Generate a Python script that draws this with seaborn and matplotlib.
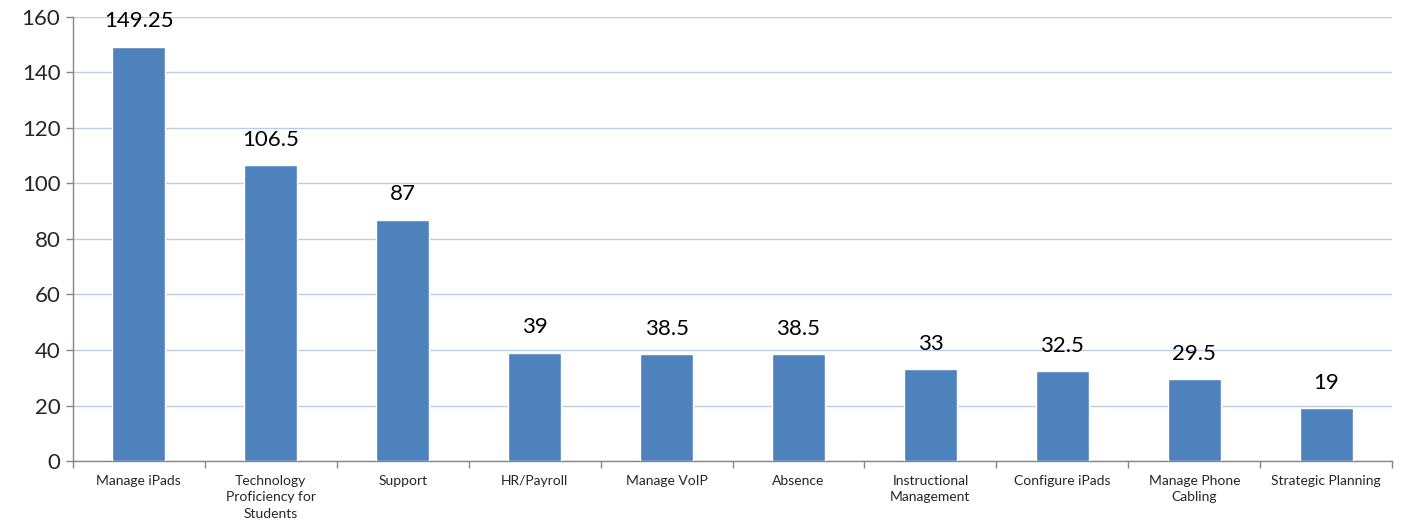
import matplotlib
matplotlib.use("Agg")
import matplotlib.pyplot as plt
import seaborn as sns
import numpy as np
import pandas as pd

# --- Data ---
categories = ["Manage iPads", "Technology\nProficiency for\nStudents", "Support",
              "HR/Payroll", "Manage VoIP", "Absence", "Instructional\nManagement",
              "Configure iPads", "Manage Phone\nCabling", "Strategic Planning"]
values = [149.25, 106.5, 87, 39, 38.5, 38.5, 33, 32.5, 29.5, 19]
value_labels = ["149.25", "106.5", "87", "39", "38.5", "38.5", "33", "32.5", "29.5", "19"]
y_ticks = [0, 20, 40, 60, 80, 100, 120, 140, 160]

df = pd.DataFrame({"category": categories, "value": values})

sns.set_style("white")
plt.rcParams["font.family"] = ["Lato", "DejaVu Sans"]

fig = plt.figure(figsize=(14.02, 5.29), dpi=100)
ax = fig.add_axes([0.052, 0.1285, 0.941, 0.8395])

sns.barplot(data=df, x="category", y="value", color="#4F81BD", saturation=1,
            width=0.4, ax=ax, zorder=3)

ax.bar_label(ax.containers[0], labels=value_labels, padding=11, fontsize=16, color="black")

ax.set_ylim(0, 160)
ax.set_xlim(-0.5, len(categories) - 0.5)
ax.set_yticks(y_ticks)
ax.tick_params(axis="y", labelsize=16, length=5, width=1, color="#868686", direction="out", left=True, pad=4)
ax.set_xticks(range(len(categories)))
ax.set_xticklabels(categories, fontsize=10, linespacing=1.45)
ax.tick_params(axis="x", which="major", length=0, pad=10)
ax.set_xticks(np.arange(-0.5, len(categories)), minor=True)
ax.tick_params(axis="x", which="minor", length=5, width=1, color="#868686", direction="out", bottom=True)

ax.yaxis.grid(True, color="#B9CDE5", linewidth=1, zorder=0)
ax.set_axisbelow(True)

for s in ["top", "right"]:
    ax.spines[s].set_visible(False)
for s in ["left", "bottom"]:
    ax.spines[s].set_color("#868686")
    ax.spines[s].set_linewidth(1)

ax.set_xlabel("")
ax.set_ylabel("")

fig.savefig("out.png", dpi=100)
